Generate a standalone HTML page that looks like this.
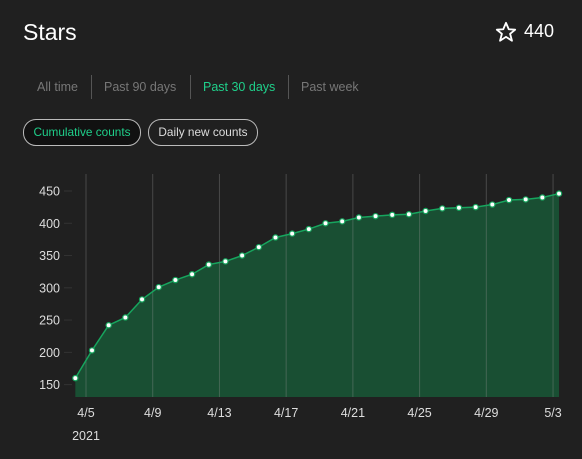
<!DOCTYPE html>
<html><head><meta charset="utf-8"><style>
html,body{margin:0;padding:0;background:#202020;width:582px;height:459px;overflow:hidden;font-family:"Liberation Sans",sans-serif;}
.t{position:absolute;white-space:nowrap}
</style></head><body>
<div class="t" style="left:23px;top:19px;font-size:23px;color:#fff">Stars</div>
<svg style="position:absolute;left:495px;top:21px" width="22" height="22" viewBox="0 0 24 24"><polygon points="12,2 15,9 22,9.5 16.5,14 18.5,21.5 12,17.3 5.5,21.5 7.5,14 2,9.5 9,9" fill="none" stroke="#fff" stroke-width="2" stroke-linejoin="round"/></svg>
<div class="t" style="left:524px;top:21px;font-size:18px;color:#fff">440</div>
<div class="t" style="left:37px;top:80px;font-size:12.5px;color:#777">All time</div>
<div style="position:absolute;left:91px;top:75px;width:1px;height:24px;background:#555"></div>
<div class="t" style="left:104px;top:80px;font-size:12.5px;color:#777">Past 90 days</div>
<div style="position:absolute;left:190px;top:75px;width:1px;height:24px;background:#555"></div>
<div class="t" style="left:203px;top:80px;font-size:12.5px;color:#1fcf8a">Past 30 days</div>
<div style="position:absolute;left:288px;top:75px;width:1px;height:24px;background:#555"></div>
<div class="t" style="left:301px;top:80px;font-size:12.5px;color:#777">Past week</div>
<div class="t" style="left:23px;top:119px;width:116px;height:25px;border:1px solid #bbb;border-radius:13px;background:#111;color:#1fcf8a;font-size:11.8px;line-height:25px;text-align:center">Cumulative counts</div>
<div class="t" style="left:148px;top:119px;width:108px;height:25px;border:1px solid #bbb;border-radius:13px;color:#ddd;font-size:11.8px;line-height:25px;text-align:center">Daily new counts</div>
<svg id="chart" style="position:absolute;left:0;top:0" width="582" height="459"></svg>
<script>
const values=[160,203,242,254,282,301,312,321,336,341,350,363,378,384,391,400,403,409,411,413,414,419,423,424,425,429,436,437,440,446];
const yTicks=[150,200,250,300,350,400,450];
const xTickLabels=["4/5","4/9","4/13","4/17","4/21","4/25","4/29","5/3"];
const xTickDays=[0,4,8,12,16,20,24,28];
const firstPointDay=-0.64;
const NS="http://www.w3.org/2000/svg";
const svg=document.getElementById('chart');
const x=d=>86+d*16.68;
const y=v=>191+(450-v)*0.6453;
const bottom=397;
function mk(t,a){const e=document.createElementNS(NS,t);for(const k in a)e.setAttribute(k,a[k]);svg.appendChild(e);return e;}
let pts=values.map((v,i)=>[x(firstPointDay+i),y(v)]);
let d="M"+pts[0][0]+","+bottom+" "+pts.map(p=>"L"+p[0]+","+p[1]).join(" ")+" L"+pts[pts.length-1][0]+","+bottom+"Z";
const area=mk('path',{d:d,fill:'#194f33'});


xTickDays.forEach((dd,i)=>{
 const gl=mk('line',{x1:x(dd),x2:x(dd),y1:174,y2:bottom,stroke:'rgba(150,150,150,0.35)','stroke-width':1});
 
 
 const t=mk('text',{x:x(dd),y:417,fill:'#ddd','font-size':12.5,'text-anchor':'middle','font-family':'Liberation Sans, sans-serif'});
 t.textContent=xTickLabels[i];
 
 
});
const yr=mk('text',{x:x(0),y:440,fill:'#ddd','font-size':12.5,'text-anchor':'middle','font-family':'Liberation Sans, sans-serif'});
yr.textContent="2021";


yTicks.forEach(v=>{
 const tk=mk('line',{x1:64,x2:72,y1:y(v),y2:y(v),stroke:'#333','stroke-width':1});
 
 
 const t=mk('text',{x:60,y:y(v)+4.5,fill:'#ddd','font-size':12.5,'text-anchor':'end','font-family':'Liberation Sans, sans-serif'});
 t.textContent=v;
 
 
});
const ln=mk('polyline',{points:pts.map(p=>p.join(",")).join(" "),fill:'none',stroke:'#17a55e','stroke-width':1.5});


pts.forEach(p=>{
 const c=mk('circle',{cx:p[0],cy:p[1],r:2.6,fill:'#fff',stroke:'#17a55e','stroke-width':1.2});
 
 
});
</script>
</body></html>
